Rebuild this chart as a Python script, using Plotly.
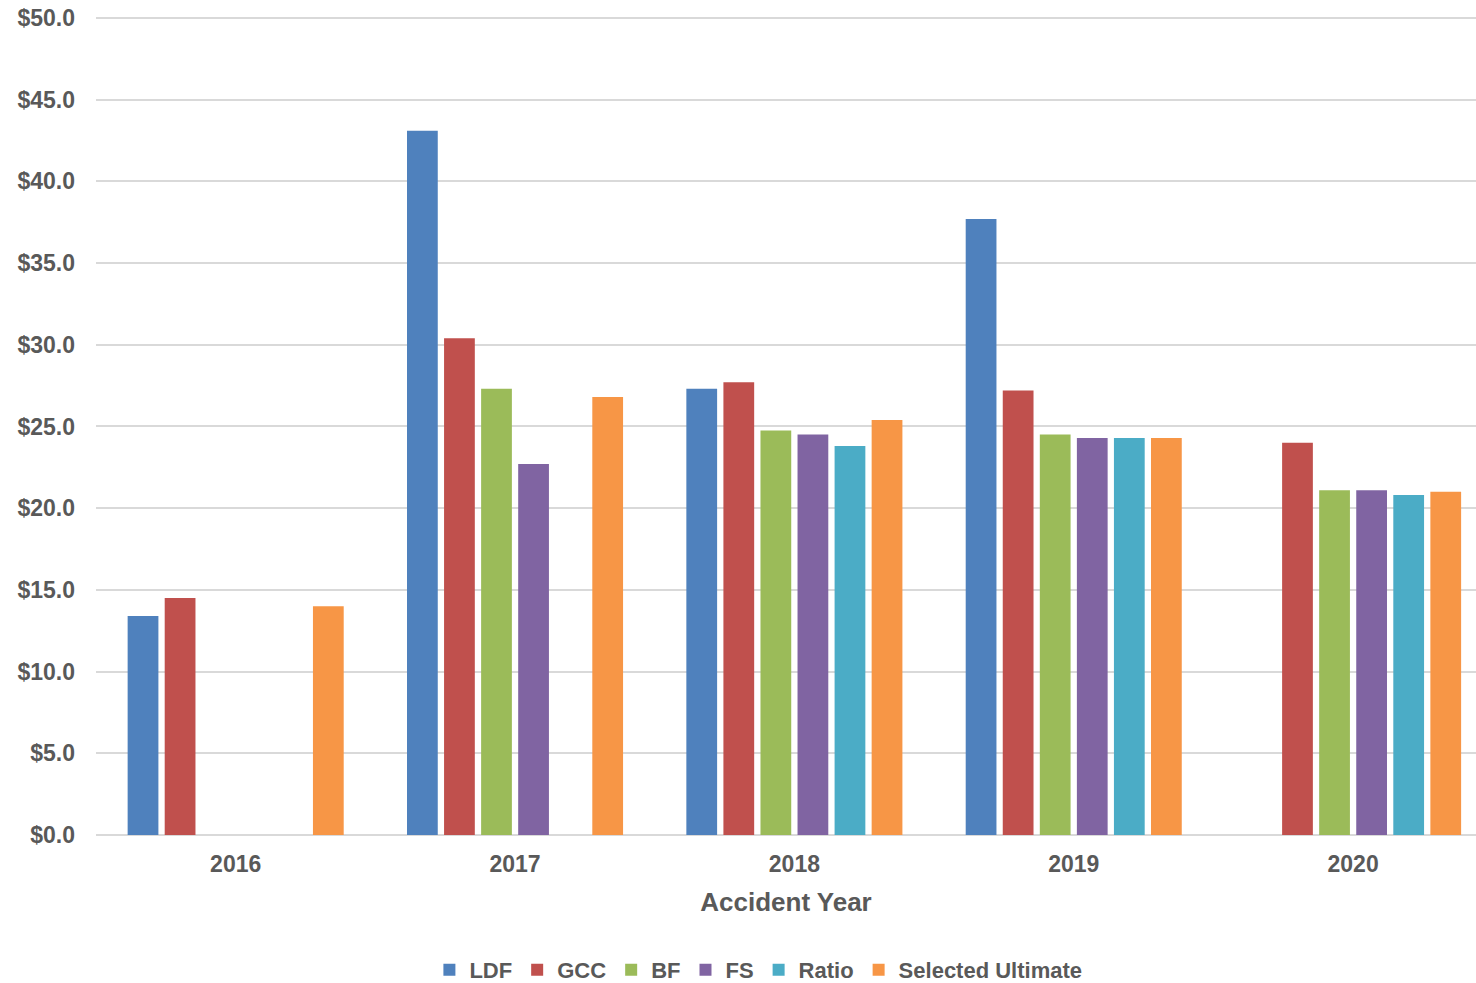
import plotly.graph_objects as go

years = ["2016", "2017", "2018", "2019", "2020"]
series_names = ["LDF", "GCC", "BF", "FS", "Ratio", "Selected Ultimate"]
ldf = [13.4, 43.1, 27.3, 37.7, None]
gcc = [14.5, 30.4, 27.7, 27.2, 24.0]
bf = [None, 27.3, 24.75, 24.5, 21.1]
fs = [None, 22.7, 24.5, 24.3, 21.1]
ratio = [None, None, 23.8, 24.3, 20.8]
selected = [14.0, 26.8, 25.4, 24.3, 21.0]
colors = ["#4F81BD", "#C0504D", "#9BBB59", "#8064A2", "#4BACC6", "#F79646"]
y_ticks = [0, 5, 10, 15, 20, 25, 30, 35, 40, 45, 50]
y_ticktext = ["$%.1f" % v for v in y_ticks]

values = [ldf, gcc, bf, fs, ratio, selected]

fig = go.Figure()
for name, vals, col in zip(series_names, values, colors):
    fig.add_trace(go.Bar(x=years, y=vals, name=name, marker=dict(color=col, line=dict(width=0))))

txt = "#595959"
H = 983
top = 13
bot = 40
bottom_px = 835
plot_h = H - top - bot
fig.update_layout(
    width=1476, height=H,
    margin=dict(l=96, r=0, t=top, b=bot),
    paper_bgcolor="white", plot_bgcolor="white",
    font=dict(family="Liberation Sans, Arial, sans-serif", color=txt),
    barmode="group", bargap=0.204, bargroupgap=0.17,
    showlegend=True,
    legend=dict(orientation="h", x=0.48, xanchor="center",
                yref="container", y=(H - 970) / H, yanchor="middle",
                font=dict(size=22, weight="bold", color=txt), itemwidth=30,
                tracegroupgap=0, itemsizing="constant"),
    xaxis=dict(type="category", range=[-0.5, 4.44], showgrid=False, ticks="",
               tickfont=dict(size=23, weight="bold", color=txt), ticklabelstandoff=13,
               showline=False, automargin=False, anchor="y",
               title=dict(text="Accident Year", font=dict(size=26, weight="bold", color=txt), standoff=16)),
    yaxis=dict(range=[0, 50.3], tickvals=y_ticks, ticktext=y_ticktext,
               domain=[(H - bot - bottom_px) / plot_h, 1],
               showgrid=True, gridcolor="#d9d9d9", gridwidth=1.5,
               zeroline=True, zerolinecolor="#d9d9d9", zerolinewidth=1.5,
               automargin=False,
               tickfont=dict(size=23, weight="bold", color=txt), ticks="", ticklabelstandoff=20),
)
fig.write_html("out.html", post_script="document.body.style.margin='0';",
               config={"displayModeBar": False})
